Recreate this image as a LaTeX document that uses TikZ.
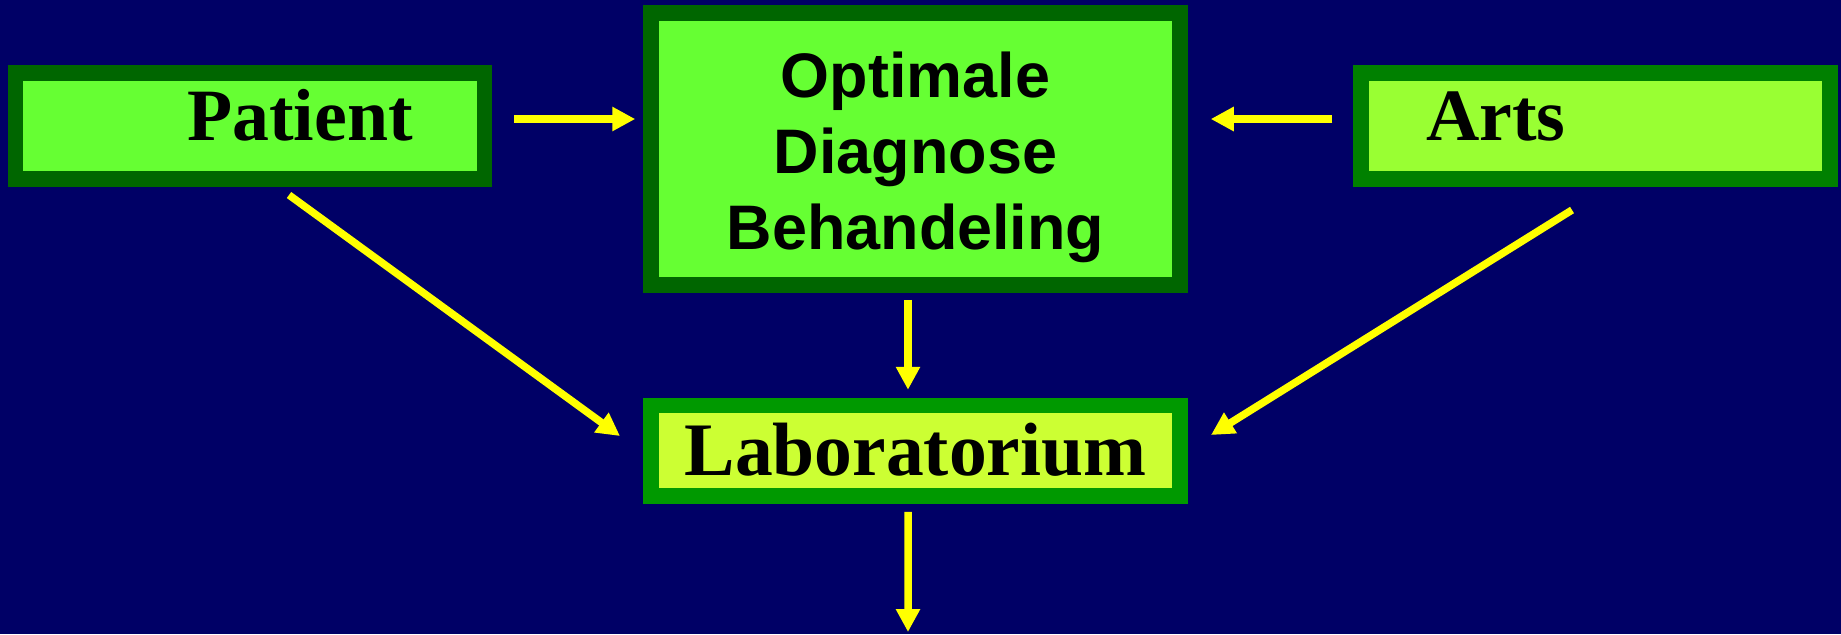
\documentclass[tikz,border=0pt]{standalone}
\usepackage{xcolor}
\usepackage{fontspec}
\setmainfont{Liberation Serif}
\newfontfamily\arialfont{Liberation Sans}
\usetikzlibrary{arrows.meta}

\definecolor{navy}{HTML}{000066}
\definecolor{darkgreen}{HTML}{006600}
\definecolor{midgreen}{HTML}{008000}
\definecolor{labgreen}{HTML}{009900}
\definecolor{lightgreen}{HTML}{66FF33}
\definecolor{artsgreen}{HTML}{99FF33}
\definecolor{labyellow}{HTML}{CCFF33}
\definecolor{arrowyellow}{HTML}{FFFF00}

\begin{document}
\begin{tikzpicture}[
    box/.style={draw, line width=1.55mm, inner sep=0pt, text=black},
    flow/.style={draw=arrowyellow, line width=0.75mm,
        -{Triangle[width=2.3mm, length=2.3mm]}}
  ]
          \fill[navy] (0,0) rectangle (18.41,-6.34);
          \useasboundingbox (0,0) rectangle (18.41,-6.34);

          \node[box, draw=darkgreen, fill=lightgreen, minimum width=4.69cm,
            minimum height=1.06cm, text height=5mm, text depth=2.2mm,
            font=\bfseries\fontsize{21pt}{24pt}\selectfont]
            (patient) at (2.50,-1.26) {\hspace*{1cm}Patient};

          \node[box, draw=darkgreen, fill=lightgreen, minimum width=5.29cm,
            minimum height=2.72cm,
            font=\arialfont\bfseries\fontsize{17.9pt}{21.6pt}\selectfont]
            (optimale) at (9.155,-1.49)
            {\raisebox{-0.9mm}[\height][\depth]{\begin{tabular}{@{}c@{}}Optimale\\Diagnose\\Behandeling\end{tabular}}};

          \node[box, draw=midgreen, fill=artsgreen, minimum width=4.69cm,
            minimum height=1.06cm, text height=5mm, text depth=2.2mm,
            font=\bfseries\fontsize{21pt}{24pt}\selectfont]
            (arts) at (15.955,-1.26) {Arts\hspace*{1.99cm}};

          \node[box, draw=labgreen, fill=labyellow, minimum width=5.29cm,
            minimum height=0.905cm, text height=5mm, text depth=0pt,
            font=\bfseries\fontsize{21.5pt}{24pt}\selectfont]
            (lab) at (9.155,-4.5075) {Laboratorium};

          \coordinate (result) at (9.08,-6.32);

          \draw[flow, shorten <=2.2mm, shorten >=0.8mm]
            ([yshift=0.7mm]patient.east) -- ([yshift=0.7mm]patient.east -| optimale.west);
          \draw[flow, shorten <=2.1mm, shorten >=2.3mm]
            ([yshift=0.7mm]arts.west) -- ([yshift=0.7mm]arts.west -| optimale.east);
          \draw[flow, shorten <=0.7mm, shorten >=0.8mm]
            ([xshift=-0.75mm]optimale.south) -- ([xshift=-0.75mm]lab.north);
          \draw[flow, shorten <=0.8mm]
            ([xshift=-0.75mm]lab.south) -- (result);
          \draw[flow]
            ([shift={(0.39,-0.0825)}]patient.south) -- ([shift={(-0.2325,0.1475)}]lab.west);
          \draw[flow]
            ([shift={(-0.235,-0.2325)}]arts.south) -- ([shift={(0.2325,0.1575)}]lab.east);

          \end{tikzpicture}
\end{document}
